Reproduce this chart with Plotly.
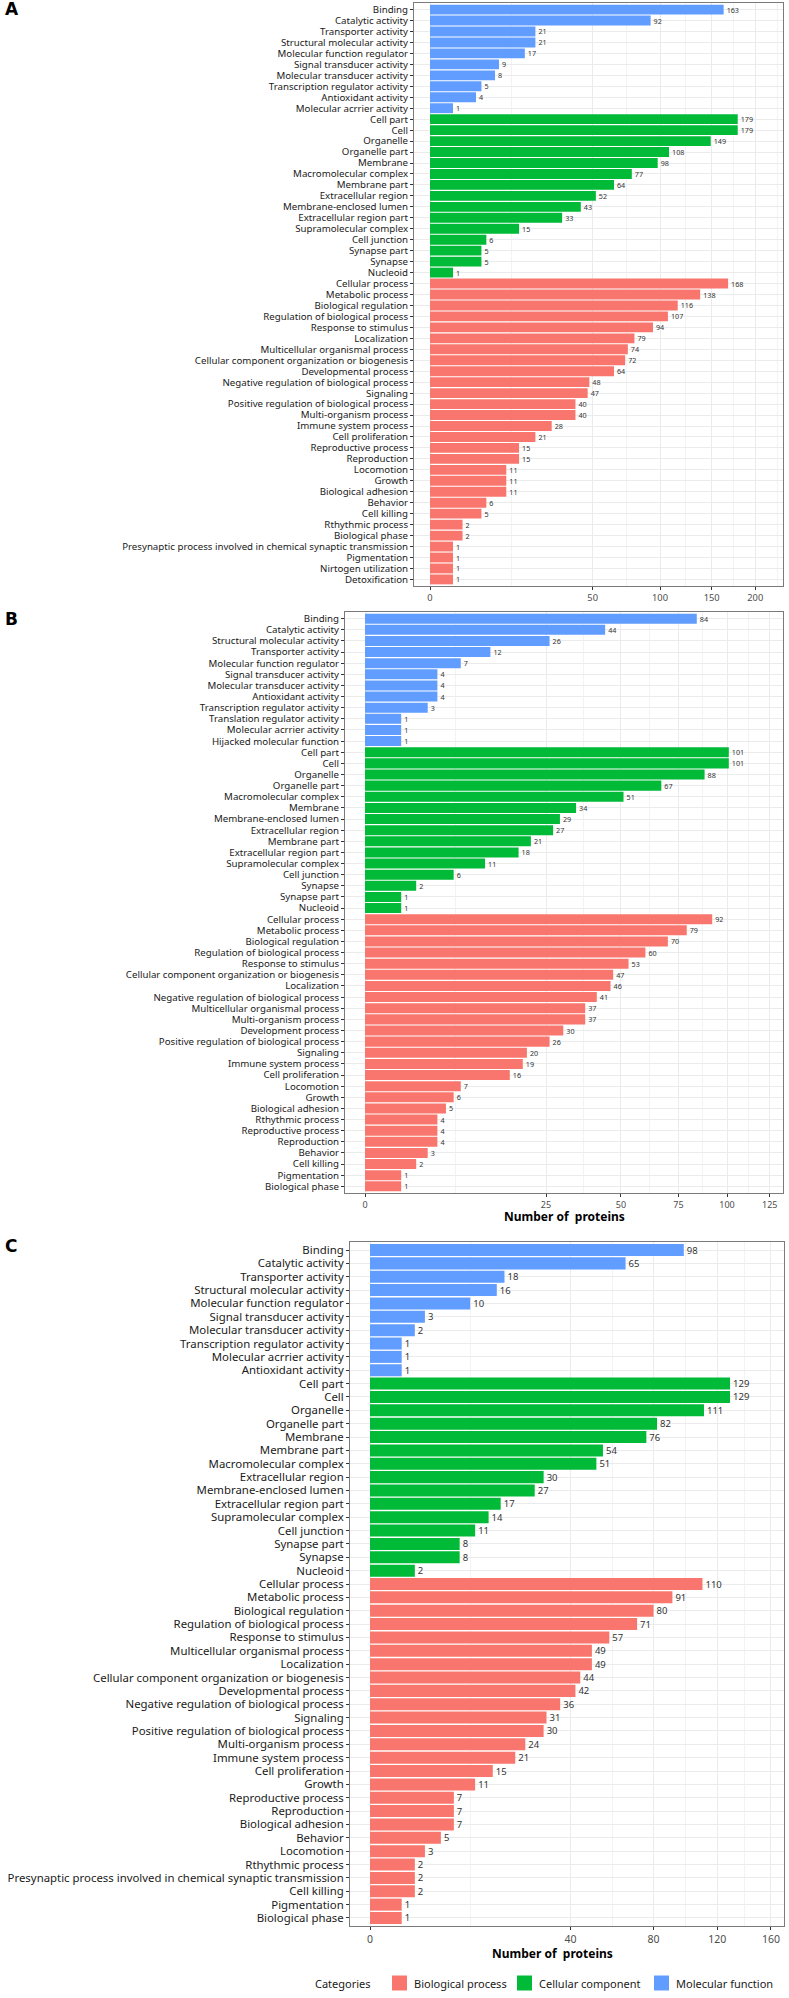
import numpy as np
import plotly.graph_objects as go

# ---------------- data ----------------
A_MF_LABELS = ["Binding", "Catalytic activity", "Transporter activity", "Structural molecular activity",
               "Molecular function regulator", "Signal transducer activity", "Molecular transducer activity",
               "Transcription regulator activity", "Antioxidant activity", "Molecular acrrier activity"]
A_MF_VALUES = [163, 92, 21, 21, 17, 9, 8, 5, 4, 1]
A_CC_LABELS = ["Cell part", "Cell", "Organelle", "Organelle part", "Membrane", "Macromolecular complex",
               "Membrane part", "Extracellular region", "Membrane-enclosed lumen", "Extracellular region part",
               "Supramolecular complex", "Cell junction", "Synapse part", "Synapse", "Nucleoid"]
A_CC_VALUES = [179, 179, 149, 108, 98, 77, 64, 52, 43, 33, 15, 6, 5, 5, 1]
A_BP_LABELS = ["Cellular process", "Metabolic process", "Biological regulation", "Regulation of biological process",
               "Response to stimulus", "Localization", "Multicellular organismal process",
               "Cellular component organization or biogenesis", "Developmental process",
               "Negative regulation of biological process", "Signaling", "Positive regulation of biological process",
               "Multi-organism process", "Immune system process", "Cell proliferation", "Reproductive process",
               "Reproduction", "Locomotion", "Growth", "Biological adhesion", "Behavior", "Cell killing",
               "Rthythmic process", "Biological phase",
               "Presynaptic process involved in chemical synaptic transmission", "Pigmentation",
               "Nirtogen utilization", "Detoxification"]
A_BP_VALUES = [168, 138, 116, 107, 94, 79, 74, 72, 64, 48, 47, 40, 40, 28, 21, 15, 15, 11, 11, 11, 6, 5, 2, 2,
               1, 1, 1, 1]
A_TICKS = [0, 50, 100, 150, 200]

B_MF_LABELS = ["Binding", "Catalytic activity", "Structural molecular activity", "Transporter activity",
               "Molecular function regulator", "Signal transducer activity", "Molecular transducer activity",
               "Antioxidant activity", "Transcription regulator activity", "Translation regulator activity",
               "Molecular acrrier activity", "Hijacked molecular function"]
B_MF_VALUES = [84, 44, 26, 12, 7, 4, 4, 4, 3, 1, 1, 1]
B_CC_LABELS = ["Cell part", "Cell", "Organelle", "Organelle part", "Macromolecular complex", "Membrane",
               "Membrane-enclosed lumen", "Extracellular region", "Membrane part", "Extracellular region part",
               "Supramolecular complex", "Cell junction", "Synapse", "Synapse part", "Nucleoid"]
B_CC_VALUES = [101, 101, 88, 67, 51, 34, 29, 27, 21, 18, 11, 6, 2, 1, 1]
B_BP_LABELS = ["Cellular process", "Metabolic process", "Biological regulation", "Regulation of biological process",
               "Response to stimulus", "Cellular component organization or biogenesis", "Localization",
               "Negative regulation of biological process", "Multicellular organismal process",
               "Multi-organism process", "Development process", "Positive regulation of biological process",
               "Signaling", "Immune system process", "Cell proliferation", "Locomotion", "Growth",
               "Biological adhesion", "Rthythmic process", "Reproductive process", "Reproduction", "Behavior",
               "Cell killing", "Pigmentation", "Biological phase"]
B_BP_VALUES = [92, 79, 70, 60, 53, 47, 46, 41, 37, 37, 30, 26, 20, 19, 16, 7, 6, 5, 4, 4, 4, 3, 2, 1, 1]
B_TICKS = [0, 25, 50, 75, 100, 125]

C_MF_LABELS = ["Binding", "Catalytic activity", "Transporter activity", "Structural molecular activity",
               "Molecular function regulator", "Signal transducer activity", "Molecular transducer activity",
               "Transcription regulator activity", "Molecular acrrier activity", "Antioxidant activity"]
C_MF_VALUES = [98, 65, 18, 16, 10, 3, 2, 1, 1, 1]
C_CC_LABELS = ["Cell part", "Cell", "Organelle", "Organelle part", "Membrane", "Membrane part",
               "Macromolecular complex", "Extracellular region", "Membrane-enclosed lumen",
               "Extracellular region part", "Supramolecular complex", "Cell junction", "Synapse part", "Synapse",
               "Nucleoid"]
C_CC_VALUES = [129, 129, 111, 82, 76, 54, 51, 30, 27, 17, 14, 11, 8, 8, 2]
C_BP_LABELS = ["Cellular process", "Metabolic process", "Biological regulation", "Regulation of biological process",
               "Response to stimulus", "Multicellular organismal process", "Localization",
               "Cellular component organization or biogenesis", "Developmental process",
               "Negative regulation of biological process", "Signaling", "Positive regulation of biological process",
               "Multi-organism process", "Immune system process", "Cell proliferation", "Growth",
               "Reproductive process", "Reproduction", "Biological adhesion", "Behavior", "Locomotion",
               "Rthythmic process", "Presynaptic process involved in chemical synaptic transmission",
               "Cell killing", "Pigmentation", "Biological phase"]
C_BP_VALUES = [110, 91, 80, 71, 57, 49, 49, 44, 42, 36, 31, 30, 24, 21, 15, 11, 7, 7, 7, 5, 3, 2, 2, 2, 1, 1]
C_TICKS = [0, 40, 80, 120, 160]

CATEGORY_NAMES = ["Biological process", "Cellular component", "Molecular function"]
CATEGORY_COLORS = {"Biological process": "#F8766D", "Cellular component": "#00BA38",
                   "Molecular function": "#619CFF"}
AXIS_TITLE = "Number of\u00a0 proteins"
LEGEND_TITLE = "Categories"

# ---------------- layout geometry (pixels) ----------------
W, H = 789, 1998
FONT = "Noto Sans"

panels = [
    dict(name="A", mf=(A_MF_LABELS, A_MF_VALUES), cc=(A_CC_LABELS, A_CC_VALUES), bp=(A_BP_LABELS, A_BP_VALUES),
         ticks=A_TICKS, left=414, right=783, top=3, bottom=586, zero=430, unit=23.0,
         lab=9.7, val=7.2, tick=9.3, title=False, label_y=9),
    dict(name="B", mf=(B_MF_LABELS, B_MF_VALUES), cc=(B_CC_LABELS, B_CC_VALUES), bp=(B_BP_LABELS, B_BP_VALUES),
         ticks=B_TICKS, left=345, right=783, top=612, bottom=1193, zero=365, unit=36.2,
         lab=9.7, val=7.2, tick=9.0, title=True, title_x=564, title_y=1216, label_y=619),
    dict(name="C", mf=(C_MF_LABELS, C_MF_VALUES), cc=(C_CC_LABELS, C_CC_VALUES), bp=(C_BP_LABELS, C_BP_VALUES),
         ticks=C_TICKS, left=350, right=784, top=1242, bottom=1926, zero=370, unit=31.7,
         lab=11.4, val=9.5, tick=10.5, title=True, title_x=552, title_y=1953, label_y=1246),
]

fig = go.Figure()
annotations = []
shapes = []

for i, p in enumerate(panels):
    sfx = "" if i == 0 else str(i + 1)
    labels = p["mf"][0] + p["cc"][0] + p["bp"][0]
    values = p["mf"][1] + p["cc"][1] + p["bp"][1]
    colors = ([CATEGORY_COLORS["Molecular function"]] * len(p["mf"][0]) +
              [CATEGORY_COLORS["Cellular component"]] * len(p["cc"][0]) +
              [CATEGORY_COLORS["Biological process"]] * len(p["bp"][0]))
    n = len(labels)
    fig.add_trace(go.Bar(
        x=np.sqrt(values), y=labels, orientation="h", width=0.9,
        marker=dict(color=colors, line=dict(width=0)),
        text=[str(v) for v in values], textposition="outside", constraintext="none",
        textfont=dict(size=p["val"], color="#333333", family=FONT),
        cliponaxis=False, showlegend=False, hoverinfo="skip",
        xaxis="x" + sfx, yaxis="y" + sfx,
    ))
    sq = np.sqrt(p["ticks"])
    lo = (p["left"] - p["zero"]) / p["unit"]
    hi = (p["right"] - p["zero"]) / p["unit"]
    minors = list((sq[:-1] + sq[1:]) / 2)
    extra = sq[-1] + (sq[-1] - sq[-2]) / 2
    if extra < hi:
        minors.append(extra)
    xa = dict(
        domain=[p["left"] / W, p["right"] / W], range=[lo, hi], anchor="y" + sfx,
        tickmode="array", tickvals=list(sq), ticktext=[str(t) for t in p["ticks"]],
        ticks="outside", ticklen=3, tickcolor="#333333", tickwidth=1,
        tickfont=dict(size=p["tick"], color="#4D4D4D", family=FONT),
        showgrid=True, gridcolor="#EBEBEB", gridwidth=1, zeroline=False,
        minor=dict(tickmode="array", tickvals=minors, showgrid=True, gridcolor="#F3F3F3", gridwidth=0.6,
                   ticks=""),
        showline=True, mirror=True, linecolor="#7A7A7A", linewidth=1, fixedrange=True,
    )
    ya = dict(
        domain=[1 - p["bottom"] / H, 1 - p["top"] / H], anchor="x" + sfx,
        type="category", categoryorder="array", categoryarray=labels,
        tickmode="array", tickvals=labels, ticktext=labels,
        range=[n - 0.4, -0.6], autorange=False,
        ticks="outside", ticklen=3, tickcolor="#333333", tickwidth=1,
        tickfont=dict(size=p["lab"], color="#1A1A1A", family=FONT),
        showgrid=True, gridcolor="#EBEBEB", gridwidth=1, zeroline=False,
        showline=True, mirror=True, linecolor="#7A7A7A", linewidth=1, fixedrange=True,
    )
    fig.update_layout(**{"xaxis" + sfx: xa, "yaxis" + sfx: ya})
    annotations.append(dict(text="<b>" + p["name"] + "</b>", x=3 / W, y=1 - p["label_y"] / H, xref="paper",
                            yref="paper", xanchor="left", yanchor="middle", showarrow=False,
                            font=dict(size=17, color="black", family="DejaVu Sans")))
    if p["title"]:
        annotations.append(dict(text="<b>" + AXIS_TITLE + "</b>", x=p["title_x"] / W, y=1 - p["title_y"] / H,
                                xref="paper", yref="paper", xanchor="center", yanchor="middle", showarrow=False,
                                font=dict(size=12, color="black", family=FONT)))

# legend (drawn at the bottom, like ggplot's bottom legend)
LEG_Y = 1983
annotations.append(dict(text=LEGEND_TITLE, x=373 / W, y=1 - LEG_Y / H, xref="paper", yref="paper",
                        xanchor="right", yanchor="middle", showarrow=False,
                        font=dict(size=11, color="#1A1A1A", family=FONT)))
key_x = [392, 517, 654]
for name, kx in zip(CATEGORY_NAMES, key_x):
    shapes.append(dict(type="rect", xref="paper", yref="paper", x0=kx / W, x1=(kx + 15) / W,
                       y0=1 - (LEG_Y + 7.5) / H, y1=1 - (LEG_Y - 7.5) / H,
                       fillcolor=CATEGORY_COLORS[name], line=dict(width=0)))
    annotations.append(dict(text=name, x=(kx + 20) / W, y=1 - LEG_Y / H, xref="paper", yref="paper",
                            xanchor="left", yanchor="middle", showarrow=False,
                            font=dict(size=11, color="#1A1A1A", family=FONT)))

fig.update_layout(
    width=W, height=H, margin=dict(l=0, r=0, t=0, b=0),
    paper_bgcolor="white", plot_bgcolor="white",
    barmode="overlay", showlegend=False,
    annotations=annotations, shapes=shapes,
    font=dict(family=FONT, color="#1A1A1A"),
)

fig.write_html("out.html", config={"displayModeBar": False},
               post_script="document.body.style.margin='0px';"
                           "document.documentElement.style.overflow='hidden';")
